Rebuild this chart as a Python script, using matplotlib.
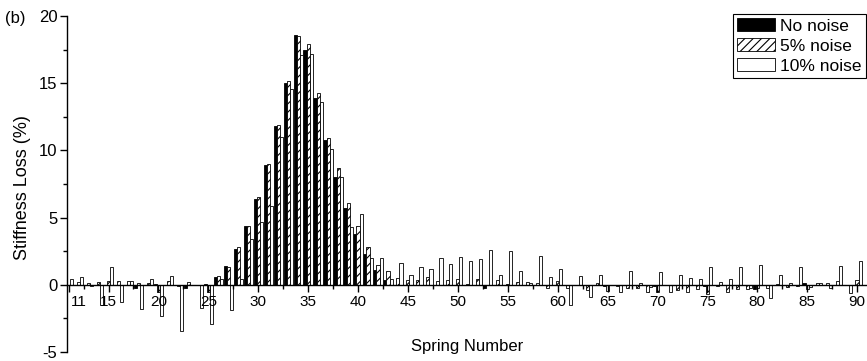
import numpy as np
import matplotlib
matplotlib.use("Agg")
import matplotlib.pyplot as plt
from matplotlib.ticker import MultipleLocator, FixedLocator
import matplotlib.transforms as mtransforms

plt.rcParams['font.family'] = ['Liberation Sans', 'DejaVu Sans']
plt.rcParams['hatch.linewidth'] = 0.8
plt.rcParams['axes.unicode_minus'] = False

# Spring numbers and stiffness loss (%) identified for each noise level
springs = list(range(11, 91))

no_noise = [0, 0, 0, 0, 0, 0, 0, -0.2, 0, 0.05,
            0, -0.05, -0.2, 0, 0.05, 0.55, 1.4, 2.7, 4.35, 6.4,
            8.9, 11.8, 15.0, 18.6, 17.5, 13.9, 10.8, 8.05, 5.75, 3.8,
            2.3, 1.1, 0.35, 0, 0, 0, 0, 0, 0, 0,
            0, 0, -0.2, 0, 0, 0, 0, 0, 0, 0,
            0, 0, 0, 0, -0.1, 0, 0, 0, 0, -0.1,
            0, 0, 0, 0, -0.1, 0, 0, 0, 0, -0.3,
            0, 0, 0, 0, 0.1, 0, 0, 0, 0, 0]

noise_5 = [0, 0.2, 0.15, 0.2, 0.27, 0.27, 0.3, 0.15, 0.15, -0.5,
           0.27, -0.1, 0.2, 0, -0.5, 0.65, 1.3, 2.8, 4.35, 6.5,
           9.0, 11.9, 15.2, 18.5, 17.9, 14.3, 10.95, 8.7, 6.1, 4.35,
           2.8, 1.5, 1.0, 0.5, 0.35, 0.35, 0.55, 0.25, 0.35, 0.45,
           0.05, 0.4, 0, 0.35, 0.05, 0.2, 0.2, 0.1, -0.25, 0.25,
           -0.2, -0.05, -0.35, 0.1, -0.45, -0.1, -0.25, -0.2, -0.5, -0.5,
           0, -0.4, -0.5, -0.3, -0.7, -0.1, -0.55, -0.3, -0.3, -0.2,
           -0.2, 0.05, -0.15, -0.1, -0.3, 0.1, 0.1, 0.3, 0, 0.35]

noise_10 = [0.45, 0.55, -0.1, -1.5, 1.3, -1.3, 0.3, -1.8, 0.4, -2.3,
            0.65, -3.45, -0.05, -1.7, -2.9, 0.45, -1.9, 0.45, 3.4, 4.7,
            5.9, 11.0, 14.6, 17.1, 17.2, 13.6, 10.1, 8.05, 4.3, 5.25,
            2.0, 2.0, 0.45, 1.65, 0.75, 1.3, 1.2, 2.0, 1.55, 2.05,
            1.8, 1.9, 2.6, 0.75, 2.55, 1.05, 0.1, 2.15, 0.55, 1.2,
            -1.5, 0.65, -0.9, 0.75, -0.05, -0.5, 1.0, 0.15, -0.15, 0.95,
            -0.5, 0.75, 0.5, 0.45, 1.3, 0.2, 0.45, 1.35, -0.2, 1.45,
            -0.95, 0.75, 0.1, 1.3, -0.15, 0.1, -0.2, 1.4, -0.6, 1.8]

labels = ['No noise', '5% noise', '10% noise']
xtick_values = [11] + list(range(15, 91, 5))

fig = plt.figure(figsize=(8.67, 3.61), dpi=100)
ax = fig.add_axes([0.0773, 0.0249, 0.9227, 0.9307])

x = np.array(springs)
w = 0.31
ax.bar(x - w, no_noise, w, color='black', edgecolor='black', linewidth=0.6,
       label=labels[0])
ax.bar(x, noise_5, w, color='white', edgecolor='black', linewidth=0.6,
       hatch='////', label=labels[1])
ax.bar(x + w, noise_10, w, color='white', edgecolor='black', linewidth=0.6,
       label=labels[2])

ax.set_xlim(10.84, 91.0)
ax.set_ylim(-5, 20)

# x axis runs along the zero line, no box
ax.spines['bottom'].set_position(('data', 0))
ax.spines['top'].set_visible(False)
ax.spines['right'].set_visible(False)
ax.spines['left'].set_linewidth(1.0)
ax.spines['bottom'].set_linewidth(1.0)

ax.xaxis.set_major_locator(FixedLocator(xtick_values))
ax.set_xticklabels([str(v) for v in xtick_values])
ax.xaxis.set_minor_locator(FixedLocator(np.arange(12.5, 91, 2.5)))
ax.yaxis.set_major_locator(MultipleLocator(5))
ax.yaxis.set_minor_locator(MultipleLocator(2.5))

ax.tick_params(axis='x', which='major', direction='out', length=5, width=1,
               labelsize=11, pad=2)
ax.tick_params(axis='x', which='minor', direction='out', length=3, width=1)
ax.tick_params(axis='y', which='major', direction='out', length=5, width=1,
               labelsize=12, pad=2)
ax.tick_params(axis='y', which='minor', direction='out', length=3, width=1)

# first label sits a little right of the axis
first = ax.get_xticklabels()[0]
first.set_transform(first.get_transform() +
                    mtransforms.ScaledTranslation(7 / 72, 0, fig.dpi_scale_trans))

ax.set_xlabel('Spring Number', fontsize=12)
ax.xaxis.label.set_va('center')
ax.xaxis.set_label_coords(0.5, 0.015)
ax.set_ylabel('Stiffness Loss (%)', fontsize=13)
ax.yaxis.label.set_va('center')
ax.yaxis.set_label_coords(-0.056, 0.49)

fig.text(0.006, 0.95, '(b)', fontsize=12, va='center', ha='left')

leg = ax.legend(loc='upper right', bbox_to_anchor=(0.999, 0.962),
                bbox_transform=fig.transFigure, fontsize=12.5,
                frameon=True, fancybox=False, shadow=False, framealpha=1,
                edgecolor='black', borderpad=0.25, labelspacing=0.25,
                handlelength=2.2, handleheight=0.8, handletextpad=0.3,
                borderaxespad=0)
leg.get_frame().set_linewidth(0.8)

fig.savefig('out.png', dpi=100)
